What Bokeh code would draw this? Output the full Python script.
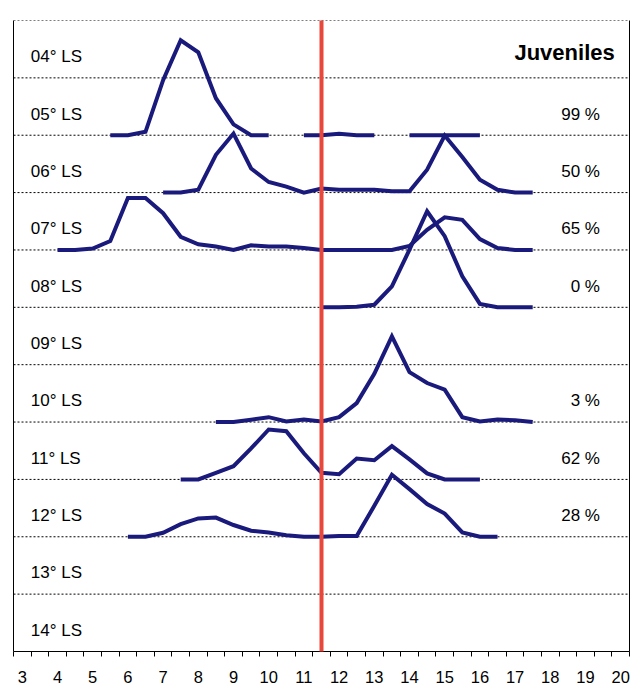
from bokeh.plotting import figure
from bokeh.models import Range1d, FixedTicker, Span, Arrow, LinearAxis
from bokeh.core.properties import value
from bokeh.embed import file_html
from bokeh.resources import INLINE

# Length classes (cm), one category every 0.5 cm
size_cm = [3.0, 3.5, 4.0, 4.5, 5.0, 5.5, 6.0, 6.5, 7.0, 7.5, 8.0, 8.5,
           9.0, 9.5, 10.0, 10.5, 11.0, 11.5, 12.0, 12.5, 13.0, 13.5, 14.0,
           14.5, 15.0, 15.5, 16.0, 16.5, 17.0, 17.5, 18.0, 18.5, 19.0, 19.5,
           20.0]

# Length-frequency (%) per latitude band; None = no sample in that class
N = None
freq_05 = [N, N, N, N, N, 0, 0, 1.2, 19.2, 33.1, 28.9, 12.9, 3.8, 0, 0, N, 0, 0,
           0.5, 0, 0, N, 0, 0, 0, 0, 0, N, N, N, N, N, N, N, N]
freq_06 = [N, N, N, N, N, N, N, N, 0, 0, 1.0, 13.2, 20.6, 8.4, 3.7, 2.1, 0, 1.4,
           1.0, 1.0, 1.0, 0.5, 0.5, 8.0, 19.9, 12.4, 4.5, 1.0, 0, 0, N, N, N, N, N]
freq_07 = [N, N, 0, 0, 0.5, 3.1, 18.1, 18.1, 12.8, 4.6, 2.0, 1.2, 0, 1.6, 1.2, 1.2,
           0.7, 0, 0, 0, 0, 0, 1.4, 7.0, 11.4, 10.5, 3.8, 0.7, 0, 0, N, N, N, N, N]
freq_08 = [N, N, N, N, N, N, N, N, N, N, N, N, N, N, N, N, N, 0, 0, 0.2, 0.9,
           7.3, 20.1, 33.5, 24.8, 10.8, 1.2, 0, 0, 0, N, N, N, N, N]
freq_10 = [N, N, N, N, N, N, N, N, N, N, N, 0, 0, 0.8, 1.7, 0.2, 0.9, 0.2, 1.7,
           6.6, 16.8, 29.9, 17.4, 13.6, 11.3, 1.7, 0.2, 0.9, 0.6, 0, N, N, N, N, N]
freq_11 = [N, N, N, N, N, N, N, N, N, 0, 0, 2.3, 4.6, 10.8, 17.4, 16.8, 9.1, 2.3,
           1.8, 7.3, 6.7, 11.6, 7.0, 2.1, 0, 0, 0, N, N, N, N, N, N, N, N]
freq_12 = [N, N, N, N, N, N, 0, 0, 1.4, 4.4, 6.4, 6.7, 4.1, 2.1, 1.5, 0.5, 0, 0,
           0.3, 0.3, 10.8, 21.6, 16.6, 11.4, 8.1, 1.5, 0, 0, N, N, N, N, N, N, N]

latitudes = ["04° LS", "05° LS", "06° LS", "07° LS", "08° LS", "09° LS",
             "10° LS", "11° LS", "12° LS", "13° LS", "14° LS"]
juveniles = ["", "99 %", "50 %", "65 %", "0 %", "", "3 %", "62 %", "28 %", "", ""]
series = {"05° LS": freq_05, "06° LS": freq_06, "07° LS": freq_07,
          "08° LS": freq_08, "10° LS": freq_10, "11° LS": freq_11,
          "12° LS": freq_12}

tick_labels = [3, 4, 5, 6, 7, 8, 9, 10, 11, 12, 13, 14, 15, 16, 17, 18, 19, 20]
juvenile_limit = 11.5

PCT_PER_BAND = 20.0   # frequency (%) spanned by one latitude band
n_bands = len(latitudes)
FONT = value("Liberation Sans")
LINE_BLUE = "#1a1a7c"

p = figure(width=634, height=686,
           x_range=Range1d(2.75, 20.25), y_range=Range1d(0, n_bands),
           output_backend="svg", toolbar_location=None,
           min_border_left=13, min_border_right=5,
           min_border_top=20, min_border_bottom=35)
p.grid.visible = False
p.outline_line_color = None

# x axis: labels on whole cm, small ticks between length classes
xa = p.xaxis[0]
xa.ticker = FixedTicker(ticks=tick_labels,
                        minor_ticks=[2.75 + 0.5 * i for i in range(36)])
xa.major_tick_in = 0
xa.major_tick_out = 0
xa.minor_tick_in = 0
xa.minor_tick_out = 5
xa.minor_tick_line_color = "black"
xa.axis_line_color = "black"
xa.major_label_text_font = "Liberation Sans"
xa.major_label_text_font_size = "16.5px"
xa.major_label_text_color = "black"
xa.major_label_standoff = 14

# left and right frame lines as bare axes
ya = p.yaxis[0]
ya.ticker = FixedTicker(ticks=[])
ya.major_tick_in = ya.major_tick_out = 0
ya.minor_tick_in = ya.minor_tick_out = 0
ya.major_label_standoff = 0
ya.axis_line_color = "black"
right = LinearAxis(ticker=FixedTicker(ticks=[]), major_tick_in=0, major_tick_out=0,
                   minor_tick_in=0, minor_tick_out=0, major_label_standoff=0,
                   axis_line_color="black")
p.add_layout(right, "right")

# dotted band separators
for k in range(1, n_bands + 1):
    p.add_layout(Span(location=k, dimension="width", line_color="black",
                      line_width=1, line_dash="2 2", level="underlay"))

# one length-frequency curve per latitude band, drawn on its band's baseline
for i, lat in enumerate(latitudes):
    if lat not in series:
        continue
    base = n_bands - 1 - i
    ys = [base + v / PCT_PER_BAND if v is not None else float("nan")
          for v in series[lat]]
    p.line(size_cm, ys, line_color=LINE_BLUE, line_width=4, line_join="miter")

# band names and juvenile share
centers = [n_bands - 1 - i + 0.5 - 0.13 for i in range(n_bands)]
p.text(x=[3.24] * n_bands, y=centers, text=latitudes, text_font=FONT,
       text_font_size="17px", text_baseline="middle", text_align="left",
       text_color="black")
p.text(x=[19.41] * n_bands, y=centers, text=juveniles, text_font=FONT,
       text_font_size="17px", text_baseline="middle", text_align="right",
       text_color="black")
p.text(x=[19.83], y=[10.44], text=["Juveniles"], text_font=FONT,
       text_font_size="22px", text_font_style="bold", text_baseline="middle",
       text_align="right", text_color="black")

# juvenile size limit
p.add_layout(Arrow(end=None, x_start=juvenile_limit, y_start=-0.105,
                   x_end=juvenile_limit, y_end=n_bands + 0.14,
                   line_color="#e8473b", line_width=4))

open("out.html", "w").write(file_html(p, INLINE))
